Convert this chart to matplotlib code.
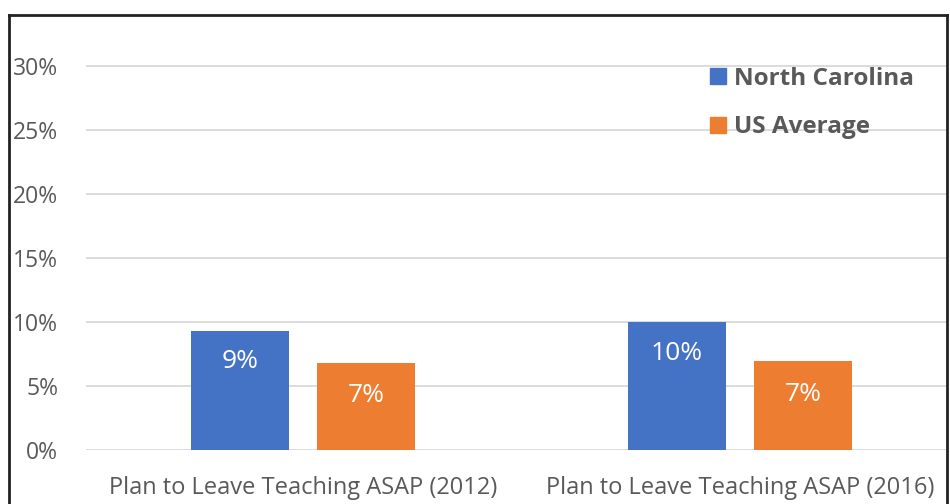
import matplotlib
matplotlib.use("Agg")
import matplotlib.pyplot as plt
from matplotlib.lines import Line2D
import numpy as np

categories = ["Plan to Leave Teaching ASAP (2012)", "Plan to Leave Teaching ASAP (2016)"]
series_names = ["North Carolina", "US Average"]
nc_values = [9.3, 10.0]
us_values = [6.8, 6.95]
nc_labels = ["9%", "10%"]
us_labels = ["7%", "7%"]
yticks = [0, 5, 10, 15, 20, 25, 30]

blue = "#4472C4"
orange = "#ED7D31"
txt = "#595959"

plt.rcParams['font.family'] = ['Open Sans', 'DejaVu Sans']

W, H = 950, 504
fig = plt.figure(figsize=(W/100, H/100), dpi=100)
ax = fig.add_axes([86/W, 1-450/H, (948-86)/W, (450-40)/H])

x = np.arange(len(categories))
bw = 0.224
off = 0.144
b1 = ax.bar(x - off, nc_values, bw, color=blue, zorder=3)
b2 = ax.bar(x + off, us_values, bw, color=orange, zorder=3)

for rect, lab in zip(b1, nc_labels):
    ax.annotate(lab, (rect.get_x()+rect.get_width()/2, rect.get_height()),
                xytext=(0, -31), textcoords='offset pixels', ha='center', va='center',
                color='white', fontsize=19, zorder=4)
for rect, lab in zip(b2, us_labels):
    ax.annotate(lab, (rect.get_x()+rect.get_width()/2, rect.get_height()),
                xytext=(0, -33), textcoords='offset pixels', ha='center', va='center',
                color='white', fontsize=19, zorder=4)

ax.set_xlim(-0.497, 1.476)
ax.set_ylim(0, 30 * (450-40)/(450-66))
ax.set_yticks(yticks)
ax.set_yticklabels([f"{v}%" for v in yticks], fontsize=16.5, color=txt)
ax.set_xticks(x)
ax.set_xticklabels(categories, fontsize=17, color=txt)
ax.tick_params(axis='both', length=0)
ax.tick_params(axis='x', pad=19)
ax.tick_params(axis='y', pad=20)
for s in ax.spines.values():
    s.set_visible(False)
ax.grid(axis='y', color='#D9D9D9', linewidth=1.3, zorder=0)
ax.set_axisbelow(True)

handles = [Line2D([], [], marker='s', linestyle='none', markersize=12, color=c) for c in (blue, orange)]
leg = ax.legend(handles, series_names, loc='upper left',
                bbox_to_anchor=((696-86)/(948-86), 1-(57-40)/(450-40)),
                frameon=False, prop={'size': 17.5, 'weight': 'bold'}, labelcolor=txt,
                handletextpad=0.15, labelspacing=1.0, handlelength=1.0, borderaxespad=0)

# frame around figure
fig.add_artist(Line2D([9/W, 9/W], [0, 1-15/H], color='#222222', lw=2, transform=fig.transFigure))
fig.add_artist(Line2D([9/W, 947/W], [1-15/H, 1-15/H], color='#222222', lw=2, transform=fig.transFigure))
fig.add_artist(Line2D([947/W, 947/W], [0, 1-15/H], color='#222222', lw=2, transform=fig.transFigure))

fig.savefig("out.png", dpi=100)
